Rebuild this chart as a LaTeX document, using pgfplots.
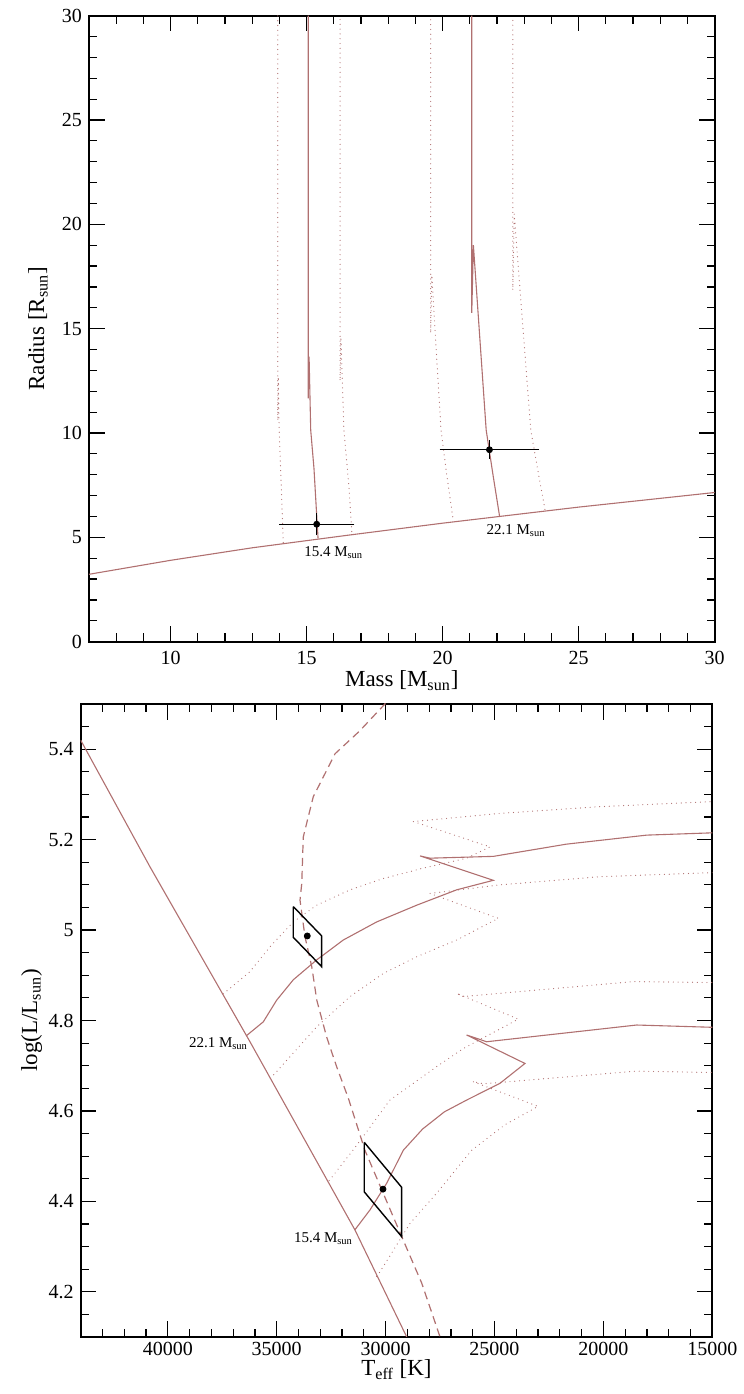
\documentclass[border=0pt]{standalone}
\usepackage{fontspec}
\setmainfont{Liberation Serif}
\usepackage{pgfplots}
\pgfplotsset{compat=1.18}
\definecolor{trk}{RGB}{176,112,112}

\pgfplotsset{
  grace/.style={
    scale only axis,
    axis line style={line width=0.9pt},
    tick align=inside,
    major tick length=7.8pt, minor tick length=4.1pt,
    every tick/.style={black, line width=0.6pt},
    tick label style={font=\fontsize{10}{12}\selectfont},
    /pgf/number format/assume math mode=true,
  },
  solidtrk/.style={trk, line width=0.55pt},
  dottrk/.style={trk, line width=0.6pt, line cap=round, dash pattern=on 0pt off 2.4pt},
  dashtrk/.style={trk, line width=0.6pt, dash pattern=on 4pt off 2.5pt},
  box/.style={black, line width=0.7pt},
}
\tikzset{mlab/.style={inner sep=0pt, font=\fontsize{7.5}{9}\selectfont},
  ttl/.style={inner sep=0pt, font=\fontsize{11.5}{14}\selectfont}}

\begin{document}
\begin{tikzpicture}
\useasboundingbox (0,0) rectangle (372pt,697pt);

% ---- mass-radius ----
\begin{axis}[grace, at={(44.5pt,376.15pt)}, anchor=south west,
  width=312.85pt, height=313pt,
  xmin=7, xmax=30, ymin=0, ymax=30,
  xticklabel style={inner sep=0pt, yshift=-4.8pt},
  xtick={10,15,20,25,30}, minor xtick={7,8,...,30},
  ytick={0,5,10,15,20,25,30}, minor ytick={0,1,...,30}]
\addplot[solidtrk] coordinates {(7,3.23) (10,3.9) (13,4.5) (16.5,5.1) (20,5.68) (25,6.45) (30,7.15)};
% 15.4
\addplot[solidtrk] coordinates {(15.42,4.95) (15.35,6.5) (15.27,8.3) (15.15,10.14) (15.09,13.66) (15.06,11.66) (15.06,30)};
\addplot[dottrk] coordinates {(14.14,4.75) (14.08,7) (13.99,10.14) (13.96,12.7) (13.94,10.6) (13.94,30)};
\addplot[dottrk] coordinates {(16.66,5.28) (16.55,7.5) (16.37,10.14) (16.26,14.6) (16.23,12.5) (16.23,30)};
% 22.1
\addplot[solidtrk] coordinates {(22.09,6.03) (21.85,8.0) (21.6,10.14) (21.13,19.0) (21.07,15.76) (21.07,30)};
\addplot[dottrk] coordinates {(20.37,5.99) (20.15,8) (19.94,10.14) (19.6,17.57) (19.56,14.78) (19.56,30)};
\addplot[dottrk] coordinates {(23.76,6.34) (23.5,8.2) (23.24,10.14) (22.63,20.5) (22.58,16.85) (22.58,30)};
% measured stars
\addplot[black, only marks, mark=*, mark size=1.5pt,
  error bars/.cd, x dir=both, x explicit, y dir=both, y explicit,
  error bar style={line width=0.7pt, black},
  error mark options={black, mark size=1.8pt, line width=0.7pt}]
  coordinates {(15.37,5.63) +- (1.25,0.36) (21.72,9.2) +- (1.7,0.27)};
\node[mlab, anchor=base west] at (axis cs:14.9,4.07) {15.4 M\textsubscript{sun}};
\node[mlab, anchor=base west] at (axis cs:21.6,5.16) {22.1 M\textsubscript{sun}};
\end{axis}

% ---- HRD ----
\begin{axis}[grace, at={(40.35pt,28.5pt)}, anchor=south west,
  width=315.8pt, height=316.5pt,
  x dir=reverse, xmin=15000, xmax=44000, ymin=4.1, ymax=5.5,
  xtick={15000,20000,25000,30000,35000,40000}, minor xtick={15000,16000,...,44000},
  ytick={4.2,4.4,4.6,4.8,5,5.2,5.4},
  minor ytick={4.1,4.15,4.2,4.25,4.3,4.35,4.4,4.45,4.5,4.55,4.6,4.65,4.7,4.75,4.8,4.85,4.9,4.95,5,5.05,5.1,5.15,5.2,5.25,5.3,5.35,5.4,5.45,5.5},
  scaled x ticks=false,
  xticklabel style={inner sep=0pt, yshift=-2.4pt, /pgf/number format/set thousands separator={}}]
\addplot[solidtrk] coordinates {(44000,5.42) (40820,5.14) (36227,4.753) (31410,4.337) (29030,4.10) (28800,4.075)};
\addplot[dashtrk] coordinates {(29900,5.53) (30030,5.5) (31200,5.44) (32320,5.39) (33320,5.295) (33780,5.206) (33850,5.103) (33930,5.066) (33700,4.985) (33390,4.919) (33160,4.845) (32710,4.764) (32250,4.698) (31710,4.628) (30950,4.513) (30110,4.418) (29260,4.322) (28340,4.219) (27500,4.10) (27300,4.07)};
% 22.1
\addplot[solidtrk] coordinates {(36400,4.766) (35616,4.797) (35001,4.845) (34239,4.89) (33164,4.934) (31943,4.978) (30410,5.018) (28573,5.055) (26736,5.089) (25056,5.11) (28420,5.164) (27960,5.159) (25050,5.163) (21700,5.19) (18010,5.21) (15030,5.215) (14900,5.215)};
\addplot[dottrk] coordinates {(37450,4.859) (36227,4.908) (35309,4.963) (34239,5.018) (33164,5.055) (31635,5.089) (30107,5.114) (28270,5.137) (26277,5.159) (25207,5.184) (28729,5.24) (24748,5.258) (20157,5.273) (15029,5.284) (14900,5.284)};
\addplot[dottrk] coordinates {(35285,4.672) (35079,4.683) (33164,4.786) (31630,4.853) (30107,4.904) (28573,4.941) (26736,4.978) (24826,5.026) (27962,5.081) (24748,5.10) (20157,5.118) (15029,5.127) (14900,5.127)};
% 15.4
\addplot[solidtrk] coordinates {(31410,4.337) (30717,4.381) (29950,4.44) (29188,4.513) (28300,4.56) (27300,4.598) (26280,4.624) (24750,4.661) (23600,4.705) (26280,4.768) (25360,4.753) (18470,4.79) (15030,4.785) (14900,4.785)};
\addplot[dottrk] coordinates {(32590,4.446) (31484,4.514) (29799,4.624) (27655,4.698) (26433,4.738) (23908,4.803) (26736,4.860) (26433,4.853) (18628,4.886) (15029,4.884) (14900,4.884)};
\addplot[dottrk] coordinates {(30410,4.234) (30258,4.244) (28881,4.351) (27655,4.418) (26048,4.513) (24500,4.57) (23000,4.61) (26000,4.665) (25500,4.66) (18500,4.688) (15000,4.685) (14900,4.685)};
% error boxes
\addplot[box] coordinates {(34239,5.052) (32935,4.987) (32935,4.919) (34239,4.984) (34239,5.052)};
\addplot[box] coordinates {(30979,4.5305) (29262,4.431) (29262,4.322) (30979,4.421) (30979,4.5305)};
\addplot[black, only marks, mark=*, mark size=1.5pt] coordinates {(33596,4.987) (30120,4.427)};
\node[mlab, anchor=base east] at (axis cs:36300,4.74) {22.1 M\textsubscript{sun}};
\node[mlab, anchor=base east] at (axis cs:31480,4.31) {15.4 M\textsubscript{sun}};
\end{axis}

% axis titles
\node[ttl, anchor=base] at (200.9pt,353.5pt) {Mass [M\textsubscript{sun}]};
\node[ttl, anchor=base, rotate=90] at (22pt,532.65pt) {Radius [R\textsubscript{sun}]};
\node[ttl, anchor=base] at (198.25pt,9.3pt) {T\textsubscript{eff} [K]};
\node[ttl, anchor=base, rotate=90] at (18.5pt,186.75pt) {log(L/L\textsubscript{sun})};
\end{tikzpicture}
\end{document}
